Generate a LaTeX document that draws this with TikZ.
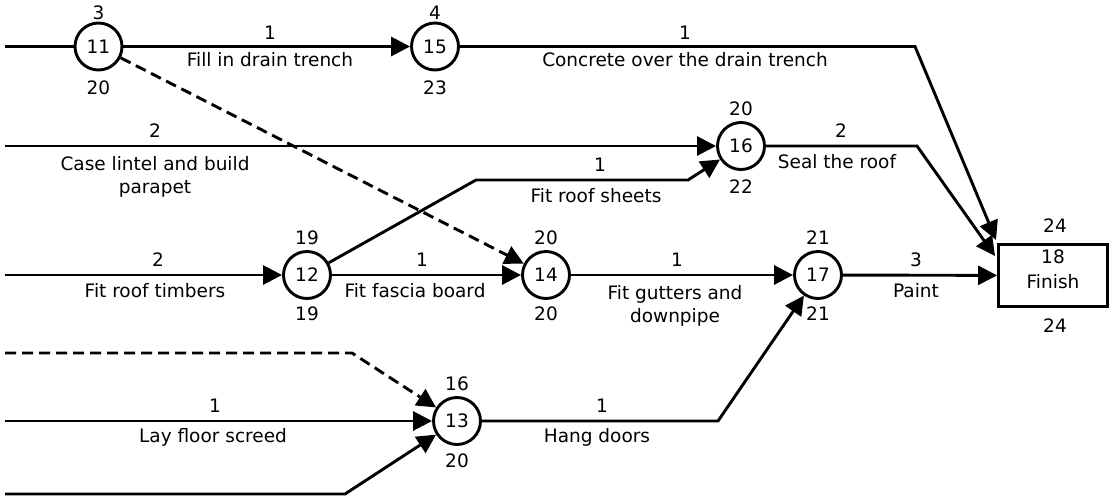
\documentclass[tikz,border=0pt]{standalone}
\usepackage{fontspec}
\setmainfont{DejaVu Sans}
\usetikzlibrary{arrows.meta}
\begin{document}
\begin{tikzpicture}[x=1pt,y=-1pt,line width=2.9pt,
  font=\fontsize{18.5}{23}\selectfont,
  ev/.style={circle,draw,line width=2.9pt,minimum size=47pt,inner sep=0pt},
  finbox/.style={rectangle,draw,line width=2.9pt,minimum width=109pt,minimum height=62pt,inner sep=0pt,align=center,text depth=12pt},
  lbl/.style={inner sep=0pt,text height=13.5pt,text depth=0pt},
  two/.style={inner sep=0pt,anchor=north,align=center},
  arr/.style={-{Triangle[length=19pt,width=19pt]}},
  dsh/.style={dash pattern=on 11pt off 6pt}]
\useasboundingbox (0,0) rectangle (1118,501);
% events
\node[ev] (n11) at (98.5,46.5) {11};
\node[ev] (n15) at (435,46.5) {15};
\node[ev] (n16) at (741,146) {16};
\node[ev] (n12) at (307,275) {12};
\node[ev] (n14) at (546,275) {14};
\node[ev] (n17) at (818,275) {17};
\node[ev] (n13) at (457,421) {13};
\node[finbox] (fin) at (1053,275.5) {18\\[2pt]Finish};
% free ends and bends
\coordinate (a11) at (5,46.5);
\coordinate (c15) at (915,46.5);
\coordinate (tc) at (996,240);
\coordinate (a16) at (5,146);
\coordinate (c16) at (917,146);
\coordinate (ts) at (995,256);
\coordinate (r1) at (476,180);
\coordinate (r2) at (688,180);
\coordinate (a12) at (5,275);
\coordinate (d1) at (5,353);
\coordinate (d2) at (352,353);
\coordinate (a13) at (5,421);
\coordinate (b1) at (5,494);
\coordinate (b2) at (345,494);
\coordinate (h1) at (718,421);
% connectors
\draw (a11) -- (n11);
\draw[arr] (n11) -- (n15);
\draw[arr] (n15) -- (c15) -- (tc);
\draw[arr] (a16) -- (n16);
\draw[arr] (n16) -- (c16) -- (ts);
\draw[arr] (n12) -- (r1) -- (r2) -- (n16);
\draw[arr] (a12) -- (n12);
\draw[arr] (n12) -- (n14);
\draw[arr,dsh] (n11) -- (n14);
\draw[arr] (n14) -- (n17);
\draw[arr] (n17) -- (fin);
\draw[arr,dsh] (d1) -- (d2) -- (n13);
\draw[arr] (a13) -- (n13);
\draw[arr] (b1) -- (b2) -- (n13);
\draw[arr] (n13) -- (h1) -- (n17);
% event times
\node[lbl] (t11a) at (98.5,12.7) {3};
\node[lbl] (t11b) at (98.5,88) {20};
\node[lbl] (t15a) at (435,12.7) {4};
\node[lbl] (t15b) at (435,88) {23};
\node[lbl] (t16a) at (741,109) {20};
\node[lbl] (t16b) at (741,187) {22};
\node[lbl] (t12a) at (307,238) {19};
\node[lbl] (t12b) at (307,314) {19};
\node[lbl] (t14a) at (546,238) {20};
\node[lbl] (t14b) at (546,314) {20};
\node[lbl] (t17a) at (818,238) {21};
\node[lbl] (t17b) at (818,314) {21};
\node[lbl] (t13a) at (457,384) {16};
\node[lbl] (t13b) at (457,461) {20};
\node[lbl] (tfa) at (1055,226) {24};
\node[lbl] (tfb) at (1055,326) {24};
% activity labels
\node[lbl] (d1a) at (270,33) {1};
\node[lbl] (d1b) at (270,60) {Fill in drain trench};
\node[lbl] (d2a) at (685,33) {1};
\node[lbl] (d2b) at (685,60) {Concrete over the drain trench};
\node[lbl] (d3a) at (155,131) {2};
\node[two] (d3b) at (155,154.7) {Case lintel and build\\parapet};
\node[lbl] (d4a) at (841,131) {2};
\node[lbl] (d4b) at (837,162) {Seal the roof};
\node[lbl] (d5a) at (600,165) {1};
\node[lbl] (d5b) at (596,196) {Fit roof sheets};
\node[lbl] (d6a) at (158,260) {2};
\node[lbl] (d6b) at (155,291) {Fit roof timbers};
\node[lbl] (d7a) at (422,260) {1};
\node[lbl] (d7b) at (415,291) {Fit fascia board};
\node[lbl] (d8a) at (677,260) {1};
\node[two] (d8b) at (675,283.7) {Fit gutters and\\downpipe};
\node[lbl] (d9a) at (916,260) {3};
\node[lbl] (d9b) at (916,291) {Paint};
\node[lbl] (d10a) at (215,406) {1};
\node[lbl] (d10b) at (213,436) {Lay floor screed};
\node[lbl] (d11a) at (602,406) {1};
\node[lbl] (d11b) at (597,436) {Hang doors};
\end{tikzpicture}
\end{document}
